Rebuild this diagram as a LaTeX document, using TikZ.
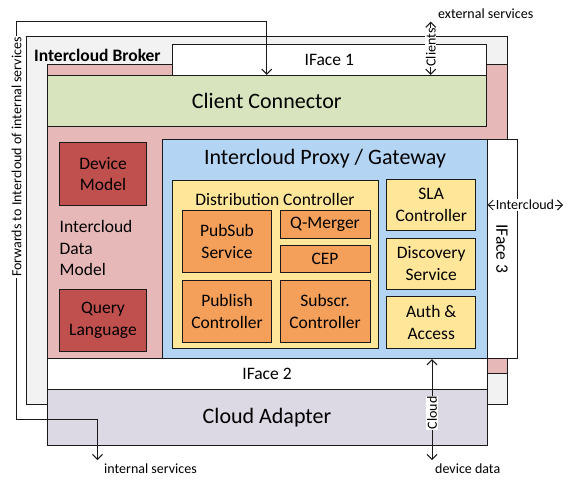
\documentclass[tikz,border=0pt]{standalone}
\usepackage{fontspec}
\setmainfont{Carlito}
\usetikzlibrary{arrows.meta}

\definecolor{brokergray}{HTML}{F2F2F2}
\definecolor{modelpink}{HTML}{E6B9B8}
\definecolor{connectgreen}{HTML}{D7E4BD}
\definecolor{proxyblue}{HTML}{B4D4F4}
\definecolor{ctrlyellow}{HTML}{FFE699}
\definecolor{svcorange}{HTML}{F4A05A}
\definecolor{modelred}{HTML}{C0504D}
\definecolor{adapterlilac}{HTML}{DCD8E4}
\definecolor{edgecol}{HTML}{1A1A1A}

\newcommand\fBig{\fontsize{22}{26}\selectfont}
\newcommand\fMid{\fontsize{17.5}{21.5}\selectfont}
\newcommand\fSmall{\fontsize{14}{16}\selectfont}
\newcommand\fTitle{\fontsize{17.5}{20}\selectfont\bfseries}

\begin{document}
\begin{tikzpicture}[x=1pt,y=-1pt,
  box/.style={draw=edgecol, line width=1pt, rectangle, inner sep=0pt, align=center},
  area/.style 2 args={minimum width=#1pt, minimum height=#2pt},
  conn/.style={draw=edgecol, line width=1pt},
  biarrow/.style={conn, {Straight Barb[length=5pt,width=10pt]}-{Straight Barb[length=5pt,width=10pt]}},
  tag/.style={fill=white, inner sep=0.8pt, font=\fSmall},
  plain/.style={inner sep=0pt, font=\fSmall, anchor=west}]
\useasboundingbox (0,0) rectangle (569,479);

% layers of the broker
\node[box, fill=brokergray, area={481}{368}] (broker) at (266.5,220) {};
\node[anchor=west, inner sep=0pt, font=\fTitle] (brokerlbl) at (34,55.7) {Intercloud Broker};
\node[box, fill=modelpink, area={460}{309}] (datamodel) at (277,218.5) {};
\node[box, fill=white, area={314.5}{30.8}, font=\fMid] (iface1) at (329.25,59.9) {IFace 1};
\node[box, fill=connectgreen, area={439.5}{51.4}, font=\fBig] (client) at (266.75,101) {Client Connector};
\node[box, fill=proxyblue, area={325}{219.7}] (proxy) at (324.5,248.85) {};
\node[font=\fBig, inner sep=0pt] (proxylbl) at (325,159) {Intercloud Proxy / Gateway};
\node[box, fill=white, area={30}{219.7}] (iface3) at (502,248.85) {};
\node[rotate=-90, font=\fMid, inner sep=0pt] (iface3lbl) at (iface3.center) {IFace 3};
\node[box, fill=white, area={440}{30.8}, font=\fMid] (iface2) at (267,374.1) {IFace 2};
\node[box, fill=adapterlilac, area={440}{55.5}, font=\fBig] (adapter) at (267,417.25) {Cloud Adapter};

% data model
\node[box, fill=modelred, area={87}{62.3}, font=\fMid] (devmodel) at (103,173.85) {Device\\Model};
\node[box, fill=modelred, area={87}{62.5}, font=\fMid] (query) at (103,320.25) {Query\\Language};
\node[anchor=west, align=left, inner sep=0pt, font=\fMid] (dmlbl) at (59.5,248) {Intercloud\\Data\\Model};

% distribution controller
\node[box, fill=ctrlyellow, area={206}{168}] (distctrl) at (275,264) {};
\node[font=\fMid, inner sep=0pt] (distlbl) at (275,199) {Distribution Controller};
\node[box, fill=svcorange, area={89}{62.5}, font=\fMid] (pubsub) at (227,241.25) {PubSub\\Service};
\node[box, fill=svcorange, area={89}{61.5}, font=\fMid] (publish) at (227,311.25) {Publish\\Controller};
\node[box, fill=svcorange, area={90}{28}, font=\fMid] (qmerger) at (325,224) {Q-Merger};
\node[box, fill=svcorange, area={90}{27.5}, font=\fMid] (cep) at (325,258.75) {CEP};
\node[box, fill=svcorange, area={90}{61.5}, font=\fMid] (subscr) at (325,311.25) {Subscr.\\Controller};

% gateway services
\node[box, fill=ctrlyellow, area={89}{51.7}, font=\fMid] (sla) at (431.2,204.85) {SLA\\Controller};
\node[box, fill=ctrlyellow, area={89}{51}, font=\fMid] (discovery) at (431.2,263.5) {Discovery\\Service};
\node[box, fill=ctrlyellow, area={89}{51.3}, font=\fMid] (auth) at (431.2,322.35) {Auth \&\\Access};

% forwarding of internal services
\coordinate (fwdx) at (266.7,0);
\coordinate (intsvc) at (97.5,460);
\draw[biarrow] (fwdx |- client.north) -- (266.7,21.3) -- (16.5,21.3) -- (16.5,419.3) -- (97.5,419.3) -- (intsvc);
\node[tag, rotate=90] (fwdlbl) at (16.5,157) {Forwards to Intercloud of internal services};
\node[plain] (intsvclbl) at (104,469) {internal services};

% clients
\coordinate (extsvc) at (430.7,21.7);
\draw[biarrow] (extsvc) -- (extsvc |- client.north);
\node[tag, rotate=90] (clientslbl) at (430.7,47.5) {Clients};
\node[plain] (extsvclbl) at (438,14) {external services};

% intercloud
\coordinate (icend) at (563,205);
\draw[biarrow] (icend -| proxy.east) -- (icend);
\node[tag] (iclbl) at (525,205) {Intercloud};

% cloud
\coordinate (devdata) at (432,460);
\draw[biarrow] (devdata |- proxy.south) -- (devdata);
\node[tag, rotate=90] (cloudlbl) at (432,413) {Cloud};
\node[plain] (devdatalbl) at (435,469) {device data};
\end{tikzpicture}
\end{document}
